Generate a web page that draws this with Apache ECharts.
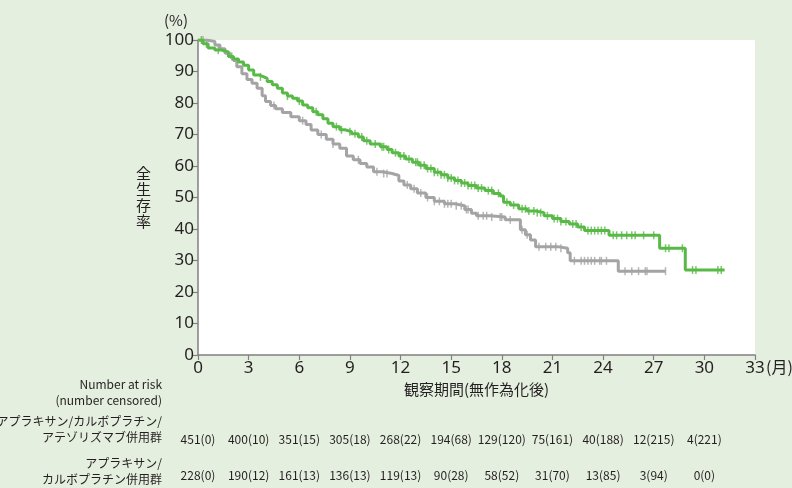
<!DOCTYPE html>
<html>
<head>
<meta charset="utf-8">
<script src="https://cdn.jsdelivr.net/npm/echarts@6/dist/echarts.min.js"></script>
<style>
html, body { margin: 0; padding: 0; background: #e5efdf; }
#chart_km { width: 792px; height: 488px; }
</style>
</head>
<body>
<div id="chart_km"></div>
<script>
// 全生存率 (%) - アテゾリズマブ併用群
var greenTimes = [0, 0.3, 0.6, 1.0, 1.4, 1.8, 2.1, 2.4, 2.7, 3.0, 3.3, 3.6, 3.9, 4.1, 4.4, 4.7, 5.0, 5.3, 5.6, 5.9,
	6.2, 6.5, 6.8, 7.1, 7.4, 7.7, 8.0, 8.4, 8.7, 9.1, 9.5, 9.8, 10.2, 10.8, 11.2, 11.5, 11.9, 12.3, 12.7, 13.1,
	13.5, 14.0, 14.4, 14.8, 15.2, 15.6, 16.0, 16.5, 17.0, 17.5, 17.9, 18.1, 18.5, 19.0, 19.5, 20.0, 20.5, 21.0,
	21.5, 22.0, 22.5, 22.9, 24.35, 27.35, 28.87, 31.2];
var greenValues = [100, 98.8, 97.5, 96.8, 96.2, 94.8, 94.0, 93.0, 92.0, 90.5, 88.9, 88.3, 87.8, 86.8, 85.8, 84.7, 83.2, 82.2, 81.5, 80.6,
	79.4, 78.5, 77.2, 76.3, 75.0, 73.6, 72.5, 71.5, 70.9, 70.2, 69.2, 68.0, 67.0, 66.1, 65.2, 64.2, 63.2, 62.2, 61.2, 60.2,
	59.2, 58.0, 57.2, 56.2, 55.4, 54.6, 53.8, 53.0, 52.2, 51.3, 50.5, 48.5, 47.6, 46.4, 45.7, 45.2, 44.2, 43.3,
	42.4, 41.6, 40.6, 39.5, 38.0, 33.9, 27.0, 27.0];
var greenCensored = [0.2, 0.5, 1.2, 2.0, 3.7, 5.3, 6.0, 7.0, 8.2, 8.5, 9.0, 9.3, 9.7, 10.0, 10.5, 10.9, 11.0, 11.3,
	11.7, 12.0, 12.2, 12.5, 12.9, 13.0, 13.2, 13.4, 13.6, 13.8, 14.0, 14.2, 14.4, 14.6, 14.8, 15.0, 15.2, 15.4, 15.6,
	15.8, 16.0, 16.2, 16.4, 16.6, 16.8, 17.2, 17.4, 17.8, 18.3, 18.7, 19.2, 19.4, 19.6, 19.9, 20.1, 20.3, 20.7, 21.1,
	21.3, 21.5, 21.8, 22.2, 22.4, 22.7, 23.1, 23.3, 23.5, 23.7, 23.9, 24.1, 24.6, 24.8, 25.1, 25.4, 25.7, 25.9, 26.4,
	27.0, 27.7, 27.9, 28.7, 29.3, 29.5, 30.8, 31.0];

// 全生存率 (%) - カルボプラチン併用群
var grayTimes = [0, 0.5, 1.0, 1.3, 1.6, 1.9, 2.1, 2.3, 2.6, 2.9, 3.2, 3.5, 3.8, 4.0, 4.3, 4.6, 5.0, 5.5, 6.0, 6.4,
	6.7, 7.1, 7.6, 8.0, 8.4, 8.8, 9.2, 9.6, 10.0, 10.4, 10.9, 11.5, 11.9, 12.2, 12.6, 13.0, 13.5, 14.0, 14.6, 15.2,
	15.8, 16.2, 16.5, 17.3, 18.2, 19.1, 19.4, 19.7, 20.0, 21.3, 21.9, 22.05, 24.9, 27.7];
var grayValues = [100, 99.5, 98.4, 97.2, 95.8, 94.5, 93.5, 91.5, 89.3, 87.5, 86.3, 84.7, 82.3, 80.5, 79.2, 78.2, 77.0, 75.6, 74.4, 73.2,
	71.4, 70.0, 68.5, 67.0, 65.6, 63.2, 62.0, 60.8, 59.7, 58.2, 57.6, 57.0, 55.2, 54.0, 52.8, 51.4, 50.0, 48.8, 48.0, 47.4,
	46.2, 45.0, 44.2, 43.8, 42.9, 39.8, 38.2, 36.5, 34.4, 33.9, 32.5, 29.9, 26.6, 26.6];
var grayCensored = [0.3, 4.5, 6.2, 7.3, 8.0, 9.5, 10.6, 11.0, 11.2, 12.4, 12.8, 13.2, 13.6, 14.0, 14.3, 14.6, 14.8,
	15.0, 15.3, 15.6, 15.9, 16.0, 16.6, 16.9, 17.1, 17.4, 17.9, 18.0, 18.5, 19.2, 19.5, 20.2, 20.6, 20.9, 21.2, 21.5,
	22.3, 22.7, 22.9, 23.1, 23.3, 23.5, 23.8, 23.9, 24.2, 25.3, 25.7, 26.1, 26.5, 26.6, 27.7];

// Number at risk (number censored)
var riskMonths = [0, 3, 6, 9, 12, 15, 18, 21, 24, 27, 30];
var riskGreen = [451, 400, 351, 305, 268, 194, 129, 75, 40, 12, 4];
var censGreen = [0, 10, 15, 18, 22, 68, 120, 161, 188, 215, 221];
var riskGray = [228, 190, 161, 136, 119, 90, 58, 31, 13, 3, 0];
var censGray = [0, 12, 13, 13, 13, 28, 52, 70, 85, 94, 0];

var GREEN = '#58b947';
var GRAY = '#a4a4a4';
var TXT = '#231f20';
var JP = '"Noto Sans CJK JP", "Noto Sans", sans-serif';

function survAt(ts, vs, t) {
	var v = vs[0];
	for (var i = 0; i < ts.length; i++) {
		if (ts[i] <= t) v = vs[i];
	}
	return v;
}

function pairs(ts, vs) {
	return ts.map(function (t, i) { return [t, vs[i]]; });
}

function censorPoints(cs, ts, vs) {
	return cs.map(function (t) { return [t, survAt(ts, vs, t)]; });
}

function riskLabel(risk, cens) {
	return function (v) {
		var i = riskMonths.indexOf(v);
		return i < 0 ? '' : risk[i] + '(' + cens[i] + ')';
	};
}

function riskAxis(offset, risk, cens) {
	return {
		type: 'value', gridIndex: 0, position: 'bottom', offset: offset,
		min: 0, max: 33, interval: 3,
		axisLine: { show: false }, axisTick: { show: false }, splitLine: { show: false },
		axisLabel: { margin: 0, fontSize: 12, color: TXT, fontFamily: JP, formatter: riskLabel(risk, cens) }
	};
}

var dom = document.getElementById('chart_km');
var myChart = echarts.init(dom);
var option = {
	backgroundColor: '#e5efdf',
	animation: false,
	grid: { left: 198, right: 37, top: 40, bottom: 133, show: true, backgroundColor: '#ffffff', borderWidth: 0 },
	xAxis: [{
		type: 'value', min: 0, max: 33, interval: 3,
		name: '観察期間(無作為化後)', nameLocation: 'middle', nameGap: 19,
		nameTextStyle: { fontSize: 15, color: TXT, fontFamily: JP },
		axisLine: { lineStyle: { color: '#808080', width: 1.5 } },
		axisTick: { length: 5, lineStyle: { color: '#808080', width: 1.2 } },
		axisLabel: { margin: 5, fontSize: 17, color: TXT, fontFamily: '"Noto Sans", sans-serif' },
		splitLine: { show: false }
	},
	riskAxis(78, riskGreen, censGreen),
	riskAxis(114, riskGray, censGray)],
	yAxis: {
		type: 'value', min: 0, max: 100, interval: 10,
		axisLine: { show: true, lineStyle: { color: '#808080', width: 1.5 } },
		axisTick: { show: true, length: 5, lineStyle: { color: '#808080', width: 1.2 } },
		axisLabel: { margin: 4, fontSize: 17, color: TXT, fontFamily: '"Noto Sans", sans-serif' },
		splitLine: { show: false }
	},
	graphic: [
		{ type: 'text', x: 164, y: 13, style: { text: '(%)', fontSize: 15, fill: TXT, fontFamily: JP } },
		{ type: 'text', x: 136, y: 165, style: { text: '全\n生\n存\n率', fontSize: 15, lineHeight: 16, fill: TXT, fontFamily: JP } },
		{ type: 'text', x: 766, y: 359, style: { text: '(月)', fontSize: 16, fill: TXT, fontFamily: JP } },
		{ type: 'text', x: 162, y: 376, style: { text: 'Number at risk\n(number censored)', align: 'right', fontSize: 12, lineHeight: 16, fill: TXT, fontFamily: JP } },
		{ type: 'text', x: 162, y: 413, style: { text: 'アプラキサン/カルボプラチン/\nアテゾリズマブ併用群', align: 'right', fontSize: 12, lineHeight: 16, fill: TXT, fontFamily: JP } },
		{ type: 'text', x: 162, y: 455, style: { text: 'アプラキサン/\nカルボプラチン併用群', align: 'right', fontSize: 12, lineHeight: 16, fill: TXT, fontFamily: JP } }
	],
	series: [
		{
			name: 'gray', type: 'line', step: 'end', symbol: 'none',
			lineStyle: { color: GRAY, width: 3 },
			data: pairs(grayTimes, grayValues)
		},
		{
			name: 'gray censored', type: 'scatter', symbol: 'rect', symbolSize: [1.5, 8],
			itemStyle: { color: GRAY },
			data: censorPoints(grayCensored, grayTimes, grayValues)
		},
		{
			name: 'green', type: 'line', step: 'end', symbol: 'none',
			lineStyle: { color: GREEN, width: 3 },
			data: pairs(greenTimes, greenValues)
		},
		{
			name: 'green censored', type: 'scatter', symbol: 'rect', symbolSize: [1.5, 8],
			itemStyle: { color: GREEN },
			data: censorPoints(greenCensored, greenTimes, greenValues)
		}
	]
};
if (option && typeof option === "object") {
	myChart.setOption(option, true);
}
</script>
</body>
</html>
